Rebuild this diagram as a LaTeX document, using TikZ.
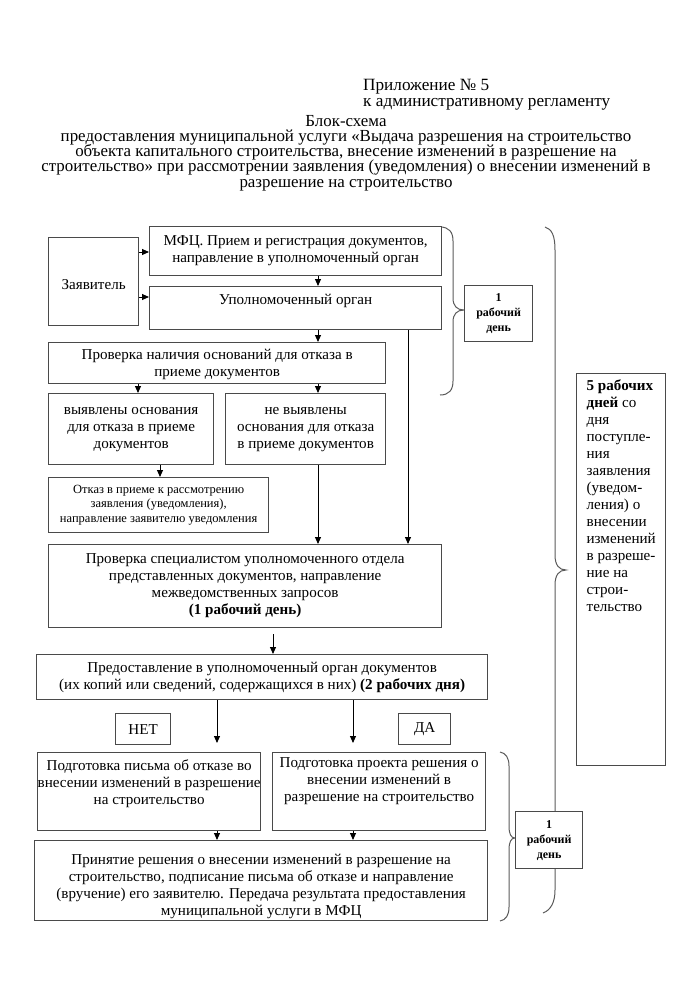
\documentclass[tikz,border=0pt]{standalone}
\usepackage{fontspec}
\setmainfont{Liberation Serif}
\usetikzlibrary{arrows.meta,calc}
\definecolor{boxc}{HTML}{4A4A4A}
\definecolor{brc}{HTML}{5A5A5A}
\newcommand\tightlines{\lineskiplimit=-20pt\relax\lineskip=0pt\relax}
\tikzset{
 box/.style={draw=boxc, line width=1.3pt, inner sep=0pt, anchor=north west, fill=white, font=\fontsize{15.1}{17}\selectfont},
 smallbox/.style={box, font=\fontsize{12.5}{14.5}\selectfont},
 daybox/.style={box, font=\bfseries\fontsize{12}{15}\selectfont},
 arr/.style={draw=black, line width=0.9pt, -{Triangle[length=7pt,width=6pt]}},
 brace/.style={draw=brc, line width=1pt},
 titletext/.style={inner sep=0pt, font=\fontsize{16.9}{15.2}\selectfont\tightlines},
}
\newcommand\pbx[4]{\parbox[c][#2pt][#3]{#1pt}{\centering #4\par}}
\begin{document}
\begin{tikzpicture}[x=1pt,y=-1pt]
\useasboundingbox (0,0) rectangle (693,999);
% titles
\node[titletext, anchor=base west, align=left, font=\fontsize{17.2}{16}\selectfont] (app) at (363,106) {Приложение № 5\\к административному регламенту};
\node[titletext, anchor=base, align=center] (title) at (346,187) {Блок-схема\\предоставления муниципальной услуги «Выдача разрешения на строительство\\объекта капитального строительства, внесение изменений в разрешение на\\строительство» при рассмотрении заявления (уведомления) о внесении изменений в\\разрешение на строительство};
% braces
\draw[brace] (440,227) .. controls (449,227) and (453,232) .. (453,241) -- (453,298) .. controls (453,306) and (457,310) .. (464,310) .. controls (457,310) and (453,314) .. (453,322) -- (453,381) .. controls (453,390) and (449,395) .. (440,395);
\draw[brace] (545,227) .. controls (552,229) and (555,236) .. (555,250) -- (555,555) .. controls (555,565) and (559,570) .. (566,570) .. controls (559,570) and (555,575) .. (555,585) -- (555,890) .. controls (555,902) and (551,910) .. (543,913);
\draw[brace] (500,752) .. controls (506,753) and (509,758) .. (509,766) -- (509,826) .. controls (509,834) and (511,838) .. (515,838) .. controls (511,838) and (509,842) .. (509,850) -- (509,907) .. controls (509,915) and (506,920) .. (500,921);
% boxes
\node[box] (zav) at (48,237) {\pbx{90}{88}{c}{\vspace*{5pt}Заявитель}};
\node[box] (mfc) at (149,226) {\pbx{292}{49}{c}{МФЦ. Прием и регистрация документов,\\направление в уполномоченный орган}};
\node[box] (upo) at (149,286) {\pbx{292}{43}{t}{\vspace*{8pt}Уполномоченный орган}};
\node[box] (prov1) at (48,342) {\pbx{337}{41}{c}{\vspace*{3pt}Проверка наличия оснований для отказа в\\приеме документов}};
\node[box] (vyav) at (48,393) {\pbx{165}{71}{c}{выявлены основания\\для отказа в приеме\\документов}};
\node[box] (nevyav) at (225,393) {\pbx{160}{71}{c}{не выявлены\\основания для отказа\\в приеме документов}};
\node[smallbox] (otkaz) at (48,477) {\pbx{220}{55}{c}{Отказ в приеме к рассмотрению\\заявления (уведомления),\\направление заявителю уведомления}};
\node[box] (prov2) at (48,544) {\pbx{393}{83}{c}{Проверка специалистом уполномоченного отдела\\представленных документов, направление\\межведомственных запросов\\\textbf{(1 рабочий день)}}};
\node[box] (pred) at (36,654) {\pbx{451}{45}{c}{Предоставление в уполномоченный орган документов\\(их копий или сведений, содержащихся в них) \textbf{(2 рабочих дня)}}};
\node[box] (net) at (115,713) {\pbx{55}{31}{c}{НЕТ}};
\node[box] (da) at (398,713) {\pbx{52}{31}{c}{ДА}};
\node[box] (podg1) at (37,752) {\pbx{223}{78}{t}{\vspace*{7pt}Подготовка письма об отказе во\\внесении изменений в разрешение\\на строительство}};
\node[box] (podg2) at (272,752) {\pbx{213}{78}{t}{\vspace*{5pt}Подготовка проекта решения о\\внесении изменений в\\разрешение на строительство}};
\node[box] (prin) at (34,840) {\pbx{453}{80}{t}{\vspace*{14pt}Принятие решения о внесении изменений в разрешение на\\строительство, подписание письма об отказе и направление\\(вручение) его заявителю. Передача результата предоставления\\муниципальной услуги в МФЦ}};
\node[daybox] (day1) at (464,285) {\pbx{68}{56}{c}{1\\рабочий\\день}};
\node[daybox] (day2) at (515,811) {\pbx{67}{57}{c}{1\\рабочий\\день}};
\node[box] (days5) at (576,373) {\parbox[c][392pt][t]{89pt}{\vspace*{6pt}\raggedright\leftskip=10pt\relax\textbf{5 рабочих}\\\textbf{дней} со\\дня\\поступле-\\ния\\заявления\\(уведом-\\ления) о\\внесении\\изменений\\в разреше-\\ние на\\строи-\\тельство\par}};
% connectors
\coordinate (c1) at (318,0);
\coordinate (c2) at (408,0);
\coordinate (c3) at (138,0);
\coordinate (c4) at (160,0);
\coordinate (c5) at (273,0);
\coordinate (c6) at (217,0);
\coordinate (c7) at (353,0);
\coordinate (mfcIn) at ([yshift=-26pt]mfc.north west);
\coordinate (upoIn) at ([yshift=-11pt]upo.north west);
\draw[arr] (mfcIn -| zav.east) -- (mfcIn);
\draw[arr] (upoIn -| zav.east) -- (upoIn);
\draw[arr] (mfc.south -| c1) -- (upo.north -| c1);
\draw[arr] (upo.south -| c1) -- (prov1.north -| c1);
\draw[arr] (upo.south -| c2) -- (prov2.north -| c2);
\draw[arr] (prov1.south -| c3) -- (vyav.north -| c3);
\draw[arr] (prov1.south -| c1) -- (nevyav.north -| c1);
\draw[arr] (vyav.south -| c4) -- (otkaz.north -| c4);
\draw[arr] (nevyav.south -| c1) -- (prov2.north -| c1);
\draw[arr, shorten <=6pt] (prov2.south -| c5) -- (pred.north -| c5);
\draw[arr, shorten >=9pt] (pred.south -| c6) -- (podg1.north -| c6);
\draw[arr, shorten >=9pt] (pred.south -| c7) -- (podg2.north -| c7);
\draw[arr] (podg1.south -| c6) -- (prin.north -| c6);
\draw[arr] (podg2.south -| c7) -- (prin.north -| c7);
\end{tikzpicture}
\end{document}
